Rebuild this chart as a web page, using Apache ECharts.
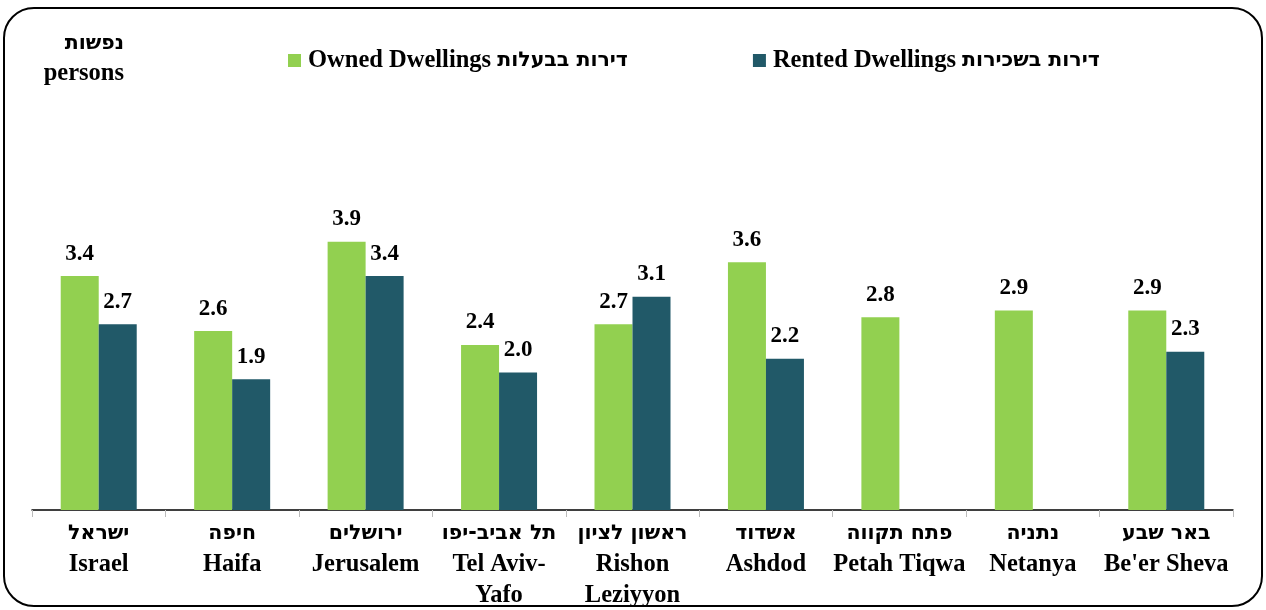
<!DOCTYPE html>
<html>
<head>
    <meta charset="utf-8">
    <title>ECharts</title>
    <script src="https://cdn.jsdelivr.net/npm/echarts@6/dist/echarts.min.js"></script>
</head>
<body style="width:100%;height:100%;margin:0px;padding:0px;">
    <div id="main" style="width:1266px;height:610px;margin:0px;padding:0px;"></div>
    <script type="text/javascript">
    // categories: hebrew line first, then english
    var cities = [
        'ישראל\nIsrael',
        'חיפה\nHaifa',
        'ירושלים\nJerusalem',
        'תל אביב-יפו\nTel Aviv-\nYafo',
        'ראשון לציון\nRishon\nLeziyyon',
        'אשדוד\nAshdod',
        'פתח תקווה\nPetah Tiqwa',
        'נתניה\nNetanya',
        'באר שבע\nBe\'er Sheva'
    ];
    var owned = [3.4, 2.6, 3.9, 2.4, 2.7, 3.6, 2.8, 2.9, 2.9];
    var rented = [2.7, 1.9, 3.4, 2.0, 3.1, 2.2, null, null, 2.3];
    var seriesNames = ['Owned Dwellings', 'Rented Dwellings'];
    var seriesHeb = ['דירות בבעלות', 'דירות בשכירות'];

    var serif = '"Liberation Serif", "DejaVu Serif", serif';
    var sans = '"DejaVu Sans", "Noto Sans", sans-serif';
    var myChart = echarts.init(document.getElementById('main'));

    var richText = {
        en: { fontFamily: serif, fontWeight: 'bold', fontSize: 24.5, color: '#000', lineHeight: 31 },
        he: { fontFamily: sans, fontWeight: 'bold', fontSize: 20.5, color: '#000', lineHeight: 31 }
    };

    var labelStyle = {
        show: true,
        position: 'top',
        distance: 11,
        fontFamily: serif,
        fontWeight: 'bold',
        fontSize: 23,
        color: '#000',
        formatter: function (p) { return p.value.toFixed(1); }
    };

    option = {
        backgroundColor: '#fff',
        animation: false,
        legend: {
            left: 283,
            top: 43,
            itemWidth: 13,
            itemHeight: 13,
            itemGap: 125,
            icon: 'rect',
            formatter: function (name) {
                var i = seriesNames.indexOf(name);
                return '{en|' + name + ' }{he|' + seriesHeb[i] + '}';
            },
            textStyle: {
                padding: [0, 0, 0, 2],
                rich: richText
            },
            data: seriesNames
        },
        grid: {
            left: 32,
            right: 33,
            top: 166,
            bottom: 100
        },
        xAxis: {
            type: 'category',
            data: cities,
            axisLine: { lineStyle: { color: '#000', width: 1.5 } },
            axisTick: { show: true, length: 7, lineStyle: { color: '#bbb' } },
            axisLabel: {
                interval: 0,
                margin: 8,
                formatter: function (value) {
                    var lines = value.split('\n');
                    var out = '{he|' + lines[0] + '}';
                    for (var i = 1; i < lines.length; i++) {
                        out += '\n{en|' + lines[i] + '}';
                    }
                    return out;
                },
                rich: richText
            }
        },
        yAxis: {
            type: 'value',
            min: 0,
            max: 5,
            show: false
        },
        series: [
            {
                name: seriesNames[0],
                type: 'bar',
                barWidth: 38,
                barGap: '0%',
                itemStyle: { color: '#92D050' },
                label: labelStyle,
                data: owned
            },
            {
                name: seriesNames[1],
                type: 'bar',
                barWidth: 38,
                barGap: '0%',
                itemStyle: { color: '#215968' },
                label: labelStyle,
                data: rented
            }
        ],
        graphic: [
            {
                type: 'rect',
                shape: { x: 4, y: 8, width: 1258, height: 598, r: 30 },
                style: { fill: null, stroke: '#000', lineWidth: 2 },
                silent: true
            },
            {
                type: 'text',
                right: 1266 - 124,
                top: 33,
                style: {
                    text: '{he|נפשות}\n{en|persons}',
                    align: 'right',
                    rich: {
                        en: { fontFamily: serif, fontWeight: 'bold', fontSize: 24.5, color: '#000', lineHeight: 30, align: 'right' },
                        he: { fontFamily: sans, fontWeight: 'bold', fontSize: 20.5, color: '#000', lineHeight: 30, align: 'right' }
                    }
                }
            }
        ]
    };
    myChart.setOption(option);
    </script>
</body>
</html>
